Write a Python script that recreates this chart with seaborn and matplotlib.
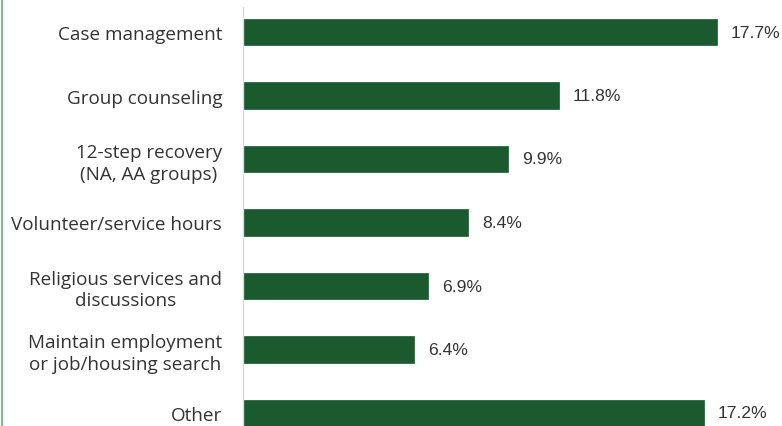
import matplotlib
matplotlib.use("Agg")
import matplotlib.pyplot as plt
import seaborn as sns
import pandas as pd
from matplotlib.lines import Line2D

categories = ["Case management", "Group counseling", "12-step recovery\n(NA, AA groups)",
              "Volunteer/service hours", "Religious services and\ndiscussions",
              "Maintain employment\nor job/housing search", "Other"]
values = [17.7, 11.8, 9.9, 8.4, 6.9, 6.4, 17.2]
value_labels = ["17.7%", "11.8%", "9.9%", "8.4%", "6.9%", "6.4%", "17.2%"]

sns.set_theme(style="white")
plt.rcParams['font.family'] = ['Open Sans', 'DejaVu Sans']

df = pd.DataFrame({"cat": categories, "val": values})

fig = plt.figure(figsize=(7.82, 4.27), dpi=100)
ax = fig.add_axes([243/782, 0, 1 - 243/782, (427 - 8)/427])
sns.barplot(data=df, x="val", y="cat", color="#1a5a2e", width=0.42, ax=ax,
            saturation=1, edgecolor="#1a5a2e", linewidth=0.5)

ax.set_xlim(0, (782 - 243) / 26.78)
ax.set_ylim(6 + 13/63.5, -25/63.5)
ax.set_xlabel("")
ax.set_ylabel("")
ax.set_xticks([])
for s in ["top", "right", "bottom"]:
    ax.spines[s].set_visible(False)
ax.spines["left"].set_color("#d9d9d9")
ax.spines["left"].set_linewidth(1)
ax.tick_params(axis="y", length=0, pad=15, labelsize=13.6, labelcolor="#333333")
for lab in ax.get_yticklabels():
    lab.set_horizontalalignment("right")
    lab.set_multialignment("center")
    lab.set_linespacing(1.25)

for i, (v, t) in enumerate(zip(values, value_labels)):
    ax.text(v + 0.52, i, t, va="center", ha="left", fontsize=12.6,
            color="#333333", family=['Liberation Sans', 'DejaVu Sans'])

fig.add_artist(Line2D([1.5/782, 1.5/782], [0, 1], transform=fig.transFigure,
                      color="#7fb890", linewidth=1.5))

fig.savefig("out.png", dpi=100)
